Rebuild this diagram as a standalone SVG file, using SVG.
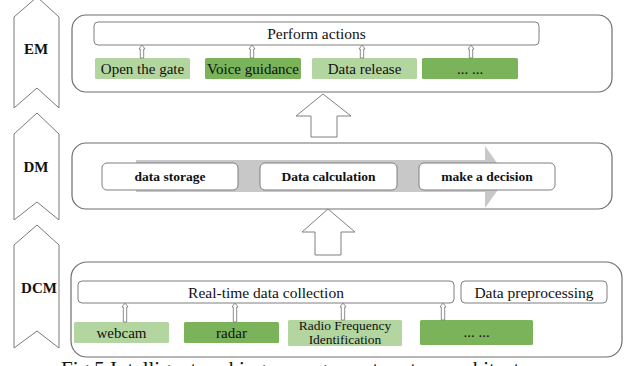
<svg xmlns="http://www.w3.org/2000/svg" width="628" height="366" viewBox="0 0 628 366">
<style>
.chev{fill:#fff;stroke:#7a7a7a;stroke-width:1}
.lbl{font-family:"Liberation Serif","Times New Roman",serif;font-weight:bold;font-size:15px;fill:#111;text-anchor:middle}
.cont{fill:#fff;stroke:#6e6e6e;stroke-width:1.2}
.box{fill:#fff;stroke:#7f7f7f;stroke-width:1}
.lt{fill:#b3d6a0}
.dk{fill:#7ab35a}
.t{font-family:"Liberation Serif","Times New Roman",serif;font-size:15px;fill:#111;text-anchor:middle}
.tb{font-family:"Liberation Serif","Times New Roman",serif;font-weight:bold;font-size:13.5px;fill:#111;text-anchor:middle}
.sa{fill:#fff;stroke:#808080;stroke-width:0.9}
.big{fill:#fff;stroke:#808080;stroke-width:1}
</style>
<g id="EM">
<path class="chev" d="M14,17 L37,-3 L59,17 L59,108 L37,88 L14,108 Z"/>
<text class="lbl" x="36" y="54">EM</text>
</g>
<g id="DM">
<path class="chev" d="M14,134 L37,113 L59,134 L59,220 L37,202 L14,220 Z"/>
<text class="lbl" x="36" y="172">DM</text>
</g>
<g id="DCM">
<path class="chev" d="M14,245 L37,225 L59,245 L59,348 L37,331 L14,348 Z"/>
<text class="lbl" x="39" y="293">DCM</text>
</g>
<g id="em-layer">
<rect class="cont" x="72" y="15" width="540" height="77" rx="14"/>
</g>
<g id="perform-actions">
<rect class="box" x="94" y="22" width="445" height="23" rx="4"/>
<text class="t" x="316.5" y="39" style="font-size:15.5px">Perform actions</text>
</g>
<g id="open-gate"><rect class="lt" x="95" y="58" width="95" height="21" rx="1.5"/><text class="t" x="142.5" y="73.5">Open the gate</text></g>
<g id="voice-guidance"><rect class="dk" x="205" y="58" width="96" height="21" rx="1.5"/><text class="t" x="253" y="73.5">Voice guidance</text></g>
<g id="data-release"><rect class="lt" x="312" y="58" width="105" height="21" rx="1.5"/><text class="t" x="364.5" y="73.5">Data release</text></g>
<g id="em-more"><rect class="dk" x="422" y="58" width="96" height="21" rx="1.5"/><text class="t" x="470" y="73.5">... ...</text></g>
<g id="dm-layer">
<rect class="cont" x="72" y="143" width="540" height="66" rx="14"/>
<path fill="#c8c8c8" d="M136,160 H485 V146 L507,177 L485,208 V192 H136 Z"/>
</g>
<g id="data-storage"><rect class="box" x="102" y="163" width="136" height="27" rx="5"/><text class="tb" x="170" y="181">data storage</text></g>
<g id="data-calculation"><rect class="box" x="260" y="163" width="137" height="27" rx="5"/><text class="tb" x="328.5" y="181">Data calculation</text></g>
<g id="make-decision"><rect class="box" x="419" y="163" width="136" height="27" rx="5"/><text class="tb" x="487" y="181">make a decision</text></g>
<g id="dcm-layer">
<rect class="cont" x="71" y="262" width="551" height="95" rx="16"/>
</g>
<g id="realtime-collection">
<rect class="box" x="78" y="281" width="376" height="22" rx="4"/>
<text class="t" x="266" y="297.5" style="font-size:15.5px">Real-time data collection</text>
</g>
<g id="data-preprocessing">
<rect class="box" x="461" y="281" width="146" height="22" rx="4"/>
<text class="t" x="534" y="297.5" style="font-size:15.5px">Data preprocessing</text>
</g>
<g id="webcam"><rect class="lt" x="74" y="322" width="95" height="21" rx="1.5"/><text class="t" x="121.5" y="337.5">webcam</text></g>
<g id="radar"><rect class="dk" x="184" y="322" width="95" height="21" rx="1.5"/><text class="t" x="231.5" y="337.5">radar</text></g>
<g id="rfid"><rect class="lt" x="288" y="320" width="114" height="26" rx="1.5"/><text class="t" x="345" y="329.8" style="font-size:13.5px">Radio Frequency</text><text class="t" x="345" y="344.3" style="font-size:13.5px">Identification</text></g>
<g id="dcm-more"><rect class="dk" x="420" y="320" width="113" height="25" rx="1.5"/><text class="t" x="476.5" y="337">... ...</text></g>
<g id="connectors">
<path class="sa" d="M140.3,58 V49 H139 L142,45 L145,49 H143.7 V58 Z"/>
<path class="sa" d="M250.3,58 V49 H249 L252,45 L255,49 H253.7 V58 Z"/>
<path class="sa" d="M360.3,58 V49 H359 L362,45 L365,49 H363.7 V58 Z"/>
<path class="sa" d="M469.3,58 V49 H468 L471,45 L474,49 H472.7 V58 Z"/>
<path class="sa" d="M123.3,322 V307 H122 L125,303 L128,307 H126.7 V322 Z"/>
<path class="sa" d="M233.3,322 V307 H232 L235,303 L238,307 H236.7 V322 Z"/>
<path class="sa" d="M341.3,320 V307 H340 L343,303 L346,307 H344.7 V320 Z"/>
<path class="sa" d="M441.3,320 V307 H440 L443,303 L446,307 H444.7 V320 Z"/>
<path class="big" d="M311,137 V116 H296 L323,94 L351,116 H337 V137 Z"/>
<path class="big" d="M315,255 V232 H302 L328,209 L355,232 H341 V255 Z"/>
</g>
<text x="61" y="376" style="font-family:'Liberation Serif','Times New Roman',serif;font-size:21px;fill:#111">Fig.5  Intelligent parking management system architecture</text>
</svg>
